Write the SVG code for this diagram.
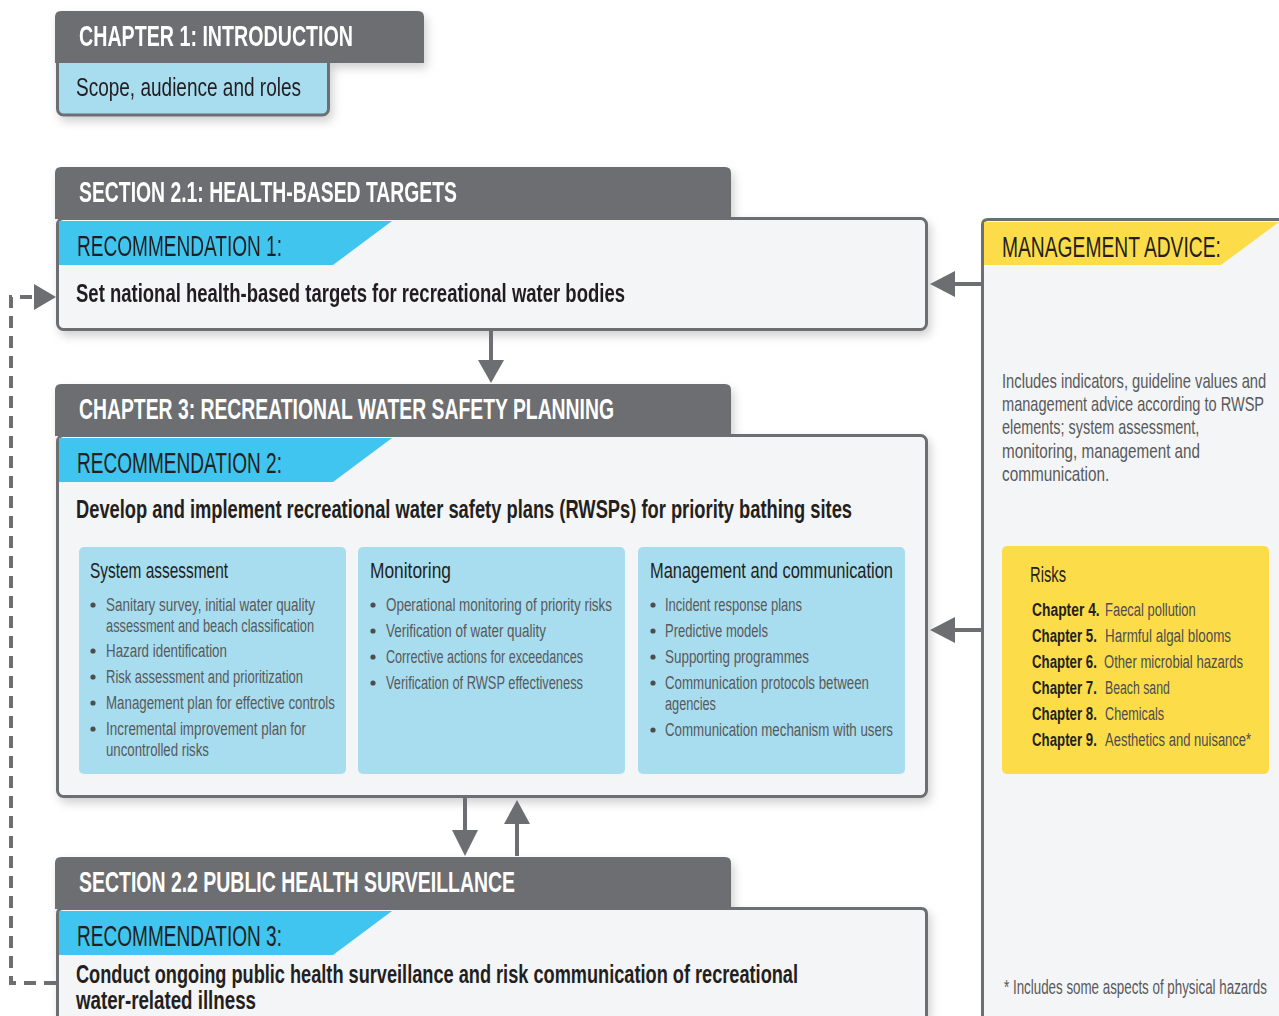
<svg xmlns="http://www.w3.org/2000/svg" width="1279" height="1016" viewBox="0 0 1279 1016">
<defs>
<filter id="sh" x="-10%" y="-10%" width="130%" height="140%">
<feDropShadow dx="3" dy="5" stdDeviation="5" flood-color="#000" flood-opacity="0.18"/>
</filter>
<style>
text{font-family:"Liberation Sans Narrow","Liberation Sans",Arial,sans-serif}
.h{font-size:30px;fill:#fff;font-weight:bold}
.rec{font-size:30px;fill:#231f20}
.lead{font-size:25px;fill:#231f20;font-weight:bold}
.sub{font-size:22px;fill:#231f20}
.li{font-size:19px;fill:#58595b}
.body{font-size:20.5px;fill:#58595b}
.ch{font-size:19px;fill:#231f20;font-weight:bold}
.ri{font-size:19px;fill:#4d4d4f}
.tab{fill:#6d6e71}
.panel{fill:#f4f5f6;stroke:#6d6e71;stroke-width:3}
.edge{fill:none;stroke:#6d6e71;stroke-width:3}
.cyan{fill:#3fc5ef}
.lb{fill:#a8ddef}
.yel{fill:#fcdd49}
.dot{fill:#4d4d4f}
.ln{stroke:#6d6e71;stroke-width:4;fill:none}
.ah{fill:#6d6e71}
</style>
</defs>
<rect width="1279" height="1016" fill="#fff"/>

<g id="chapter1" filter="url(#sh)">
<rect x="57.5" y="40" width="271" height="75" rx="6" fill="#a8ddef" stroke="#6d6e71" stroke-width="3"/>
<path class="tab" d="M55,63 V17 Q55,11 61,11 H418 Q424,11 424,17 V63 Z"/>
<text class="h" transform="translate(79,0) scale(.72,1)" x="0" y="46" textLength="380.6" lengthAdjust="spacingAndGlyphs">CHAPTER 1: INTRODUCTION</text>
<text class="sub" transform="translate(76,0) scale(.72,1)" x="0" y="96" style="font-size:26px" textLength="312.5" lengthAdjust="spacingAndGlyphs">Scope, audience and roles</text>
</g>

<g id="section21" filter="url(#sh)">
<rect class="panel" x="57.5" y="218.5" width="869" height="111" rx="6"/>
<path class="tab" d="M55,219 V173 Q55,167 61,167 H725 Q731,167 731,173 V219 Z"/>
<text class="h" transform="translate(79,0) scale(.72,1)" x="0" y="202" textLength="525" lengthAdjust="spacingAndGlyphs">SECTION 2.1: HEALTH-BASED TARGETS</text>
<polygon class="cyan" points="59,221 392,221 333,265 59,265"/>
<text class="rec" transform="translate(77,0) scale(.72,1)" x="0" y="256" textLength="284.7" lengthAdjust="spacingAndGlyphs">RECOMMENDATION 1:</text>
<text class="lead" transform="translate(76,0) scale(.72,1)" x="0" y="302" textLength="762.5" lengthAdjust="spacingAndGlyphs">Set national health-based targets for recreational water bodies</text>
</g>

<g id="chapter3">
<g filter="url(#sh)">
<rect class="panel" x="57.5" y="435.5" width="869" height="361" rx="6"/>
<path class="tab" d="M55,436 V390 Q55,384 61,384 H725 Q731,384 731,390 V436 Z"/>
</g>
<text class="h" transform="translate(79,0) scale(.72,1)" x="0" y="419" textLength="743" lengthAdjust="spacingAndGlyphs">CHAPTER 3: RECREATIONAL WATER SAFETY PLANNING</text>
<polygon class="cyan" points="59,438 392,438 333,482 59,482"/>
<text class="rec" transform="translate(77,0) scale(.72,1)" x="0" y="473" textLength="284.7" lengthAdjust="spacingAndGlyphs">RECOMMENDATION 2:</text>
<text class="lead" transform="translate(76,0) scale(.72,1)" x="0" y="518" textLength="1077.8" lengthAdjust="spacingAndGlyphs">Develop and implement recreational water safety plans (RWSPs) for priority bathing sites</text>

<g id="system-assessment">
<rect class="lb" x="79" y="547" width="267" height="227" rx="5"/>
<circle class="dot" cx="93" cy="605" r="2.6"/>
<circle class="dot" cx="93" cy="651" r="2.6"/>
<circle class="dot" cx="93" cy="677" r="2.6"/>
<circle class="dot" cx="93" cy="703" r="2.6"/>
<circle class="dot" cx="93" cy="729" r="2.6"/>
<text class="sub" transform="translate(90,0) scale(.72,1)" x="0" y="578" textLength="191.7" lengthAdjust="spacingAndGlyphs">System assessment</text>
<g transform="translate(106,0) scale(.72,1)">
<text class="li" x="0" y="611" textLength="290.3" lengthAdjust="spacingAndGlyphs">Sanitary survey, initial water quality</text>
<text class="li" x="0" y="632" textLength="288.9" lengthAdjust="spacingAndGlyphs">assessment and beach classification</text>
<text class="li" x="0" y="657" textLength="168" lengthAdjust="spacingAndGlyphs">Hazard identification</text>
<text class="li" x="0" y="683" textLength="273.6" lengthAdjust="spacingAndGlyphs">Risk assessment and prioritization</text>
<text class="li" x="0" y="709" textLength="318" lengthAdjust="spacingAndGlyphs">Management plan for effective controls</text>
<text class="li" x="0" y="735" textLength="277.8" lengthAdjust="spacingAndGlyphs">Incremental improvement plan for</text>
<text class="li" x="0" y="756" textLength="143" lengthAdjust="spacingAndGlyphs">uncontrolled risks</text>
</g>
</g>

<g id="monitoring">
<rect class="lb" x="358" y="547" width="267" height="227" rx="5"/>
<circle class="dot" cx="373" cy="605" r="2.6"/>
<circle class="dot" cx="373" cy="631" r="2.6"/>
<circle class="dot" cx="373" cy="657" r="2.6"/>
<circle class="dot" cx="373" cy="683" r="2.6"/>
<text class="sub" transform="translate(370,0) scale(.72,1)" x="0" y="578" textLength="112.5" lengthAdjust="spacingAndGlyphs">Monitoring</text>
<g transform="translate(386,0) scale(.72,1)">
<text class="li" x="0" y="611" textLength="313.9" lengthAdjust="spacingAndGlyphs">Operational monitoring of priority risks</text>
<text class="li" x="0" y="637" textLength="222.2" lengthAdjust="spacingAndGlyphs">Verification of water quality</text>
<text class="li" x="0" y="663" textLength="273.6" lengthAdjust="spacingAndGlyphs">Corrective actions for exceedances</text>
<text class="li" x="0" y="689" textLength="273.6" lengthAdjust="spacingAndGlyphs">Verification of RWSP effectiveness</text>
</g>
</g>

<g id="management-communication">
<rect class="lb" x="638" y="547" width="267" height="227" rx="5"/>
<circle class="dot" cx="653" cy="605" r="2.6"/>
<circle class="dot" cx="653" cy="631" r="2.6"/>
<circle class="dot" cx="653" cy="657" r="2.6"/>
<circle class="dot" cx="653" cy="683" r="2.6"/>
<circle class="dot" cx="653" cy="730" r="2.6"/>
<text class="sub" transform="translate(650,0) scale(.72,1)" x="0" y="578" textLength="337.5" lengthAdjust="spacingAndGlyphs">Management and communication</text>
<g transform="translate(665,0) scale(.72,1)">
<text class="li" x="0" y="611" textLength="190.3" lengthAdjust="spacingAndGlyphs">Incident response plans</text>
<text class="li" x="0" y="637" textLength="143" lengthAdjust="spacingAndGlyphs">Predictive models</text>
<text class="li" x="0" y="663" textLength="200" lengthAdjust="spacingAndGlyphs">Supporting programmes</text>
<text class="li" x="0" y="689" textLength="283.3" lengthAdjust="spacingAndGlyphs">Communication protocols between</text>
<text class="li" x="0" y="710" textLength="70.8" lengthAdjust="spacingAndGlyphs">agencies</text>
<text class="li" x="0" y="736" textLength="316.7" lengthAdjust="spacingAndGlyphs">Communication mechanism with users</text>
</g>
</g>
</g>

<g id="section22">
<g filter="url(#sh)">
<path d="M57.5,1016 V914 Q57.5,908.5 63,908.5 H921 Q926.5,908.5 926.5,914 V1016 Z" fill="#f4f5f6"/>
<path class="edge" d="M57.5,1016 V914 Q57.5,908.5 63,908.5 H921 Q926.5,908.5 926.5,914 V1016"/>
<path class="tab" d="M55,909 V863 Q55,857 61,857 H725 Q731,857 731,863 V909 Z"/>
</g>
<text class="h" transform="translate(79,0) scale(.72,1)" x="0" y="892" textLength="605.6" lengthAdjust="spacingAndGlyphs">SECTION 2.2 PUBLIC HEALTH SURVEILLANCE</text>
<polygon class="cyan" points="59,911 392,911 333,955 59,955"/>
<text class="rec" transform="translate(77,0) scale(.72,1)" x="0" y="946" textLength="284.7" lengthAdjust="spacingAndGlyphs">RECOMMENDATION 3:</text>
<g transform="translate(76,0) scale(.72,1)">
<text class="lead" x="0" y="983" textLength="1002.8" lengthAdjust="spacingAndGlyphs">Conduct ongoing public health surveillance and risk communication of recreational</text>
<text class="lead" x="0" y="1009" textLength="250" lengthAdjust="spacingAndGlyphs">water-related illness</text>
</g>
</g>

<g id="management-advice">
<path d="M982.5,1016 V225 Q982.5,219.5 988,219.5 H1279 V1016 Z" fill="#f4f5f6"/>
<path class="edge" d="M982.5,1016 V225 Q982.5,219.5 988,219.5 H1279"/>
<polygon class="yel" points="984,222 1279,222 1221,265 984,265"/>
<rect class="yel" x="1002" y="546" width="267" height="228" rx="5"/>
<g transform="translate(1002,0) scale(0.72,1)">
<text class="rec" x="0" y="257" textLength="304" lengthAdjust="spacingAndGlyphs">MANAGEMENT ADVICE:</text>
<text class="body" x="0" y="388" textLength="367" lengthAdjust="spacingAndGlyphs">Includes indicators, guideline values and</text>
<text class="body" x="0" y="411" textLength="364" lengthAdjust="spacingAndGlyphs">management advice according to RWSP</text>
<text class="body" x="0" y="434" textLength="274" lengthAdjust="spacingAndGlyphs">elements; system assessment,</text>
<text class="body" x="0" y="458" textLength="275" lengthAdjust="spacingAndGlyphs">monitoring, management and</text>
<text class="body" x="0" y="481" textLength="149" lengthAdjust="spacingAndGlyphs">communication.</text>
<text class="sub" x="38.9" y="582" textLength="50" lengthAdjust="spacingAndGlyphs">Risks</text>
<text class="ch" x="41.7" y="616" textLength="94" lengthAdjust="spacingAndGlyphs">Chapter  4.</text>
<text class="ri" x="143.1" y="616" textLength="126" lengthAdjust="spacingAndGlyphs">Faecal pollution</text>
<text class="ch" x="41.7" y="642" textLength="90" lengthAdjust="spacingAndGlyphs">Chapter 5.</text>
<text class="ri" x="143.1" y="642" textLength="175" lengthAdjust="spacingAndGlyphs">Harmful algal blooms</text>
<text class="ch" x="41.7" y="668" textLength="90" lengthAdjust="spacingAndGlyphs">Chapter 6.</text>
<text class="ri" x="141.7" y="668" textLength="193" lengthAdjust="spacingAndGlyphs">Other microbial hazards</text>
<text class="ch" x="41.7" y="694" textLength="90" lengthAdjust="spacingAndGlyphs">Chapter 7.</text>
<text class="ri" x="143.1" y="694" textLength="90" lengthAdjust="spacingAndGlyphs">Beach sand</text>
<text class="ch" x="41.7" y="720" textLength="90" lengthAdjust="spacingAndGlyphs">Chapter 8.</text>
<text class="ri" x="143.1" y="720" textLength="82" lengthAdjust="spacingAndGlyphs">Chemicals</text>
<text class="ch" x="41.7" y="746" textLength="90" lengthAdjust="spacingAndGlyphs">Chapter 9.</text>
<text class="ri" x="143.1" y="746" textLength="203" lengthAdjust="spacingAndGlyphs">Aesthetics and nuisance*</text>
<text class="body" x="2.8" y="994" style="font-size:19.5px" textLength="365" lengthAdjust="spacingAndGlyphs">* Includes some aspects of physical hazards</text>
</g>
</g>

<g id="connectors">
<line class="ln" x1="981" y1="284" x2="952" y2="284"/>
<polygon class="ah" points="930,284 955,271 955,297"/>
<line class="ln" x1="981" y1="630" x2="952" y2="630"/>
<polygon class="ah" points="930,630 955,617 955,643"/>
<line class="ln" x1="491" y1="331" x2="491" y2="362"/>
<polygon class="ah" points="478,360 504,360 491,383"/>
<line class="ln" x1="465" y1="798" x2="465" y2="832"/>
<polygon class="ah" points="452,830 478,830 465,856"/>
<line class="ln" x1="517" y1="856" x2="517" y2="822"/>
<polygon class="ah" points="504,824 530,824 517,800"/>
<path class="ln" d="M56,983 H11 V297 H36" stroke-dasharray="12 8"/>
<polygon class="ah" points="34,284 56,297 34,310"/>
</g>
</svg>
